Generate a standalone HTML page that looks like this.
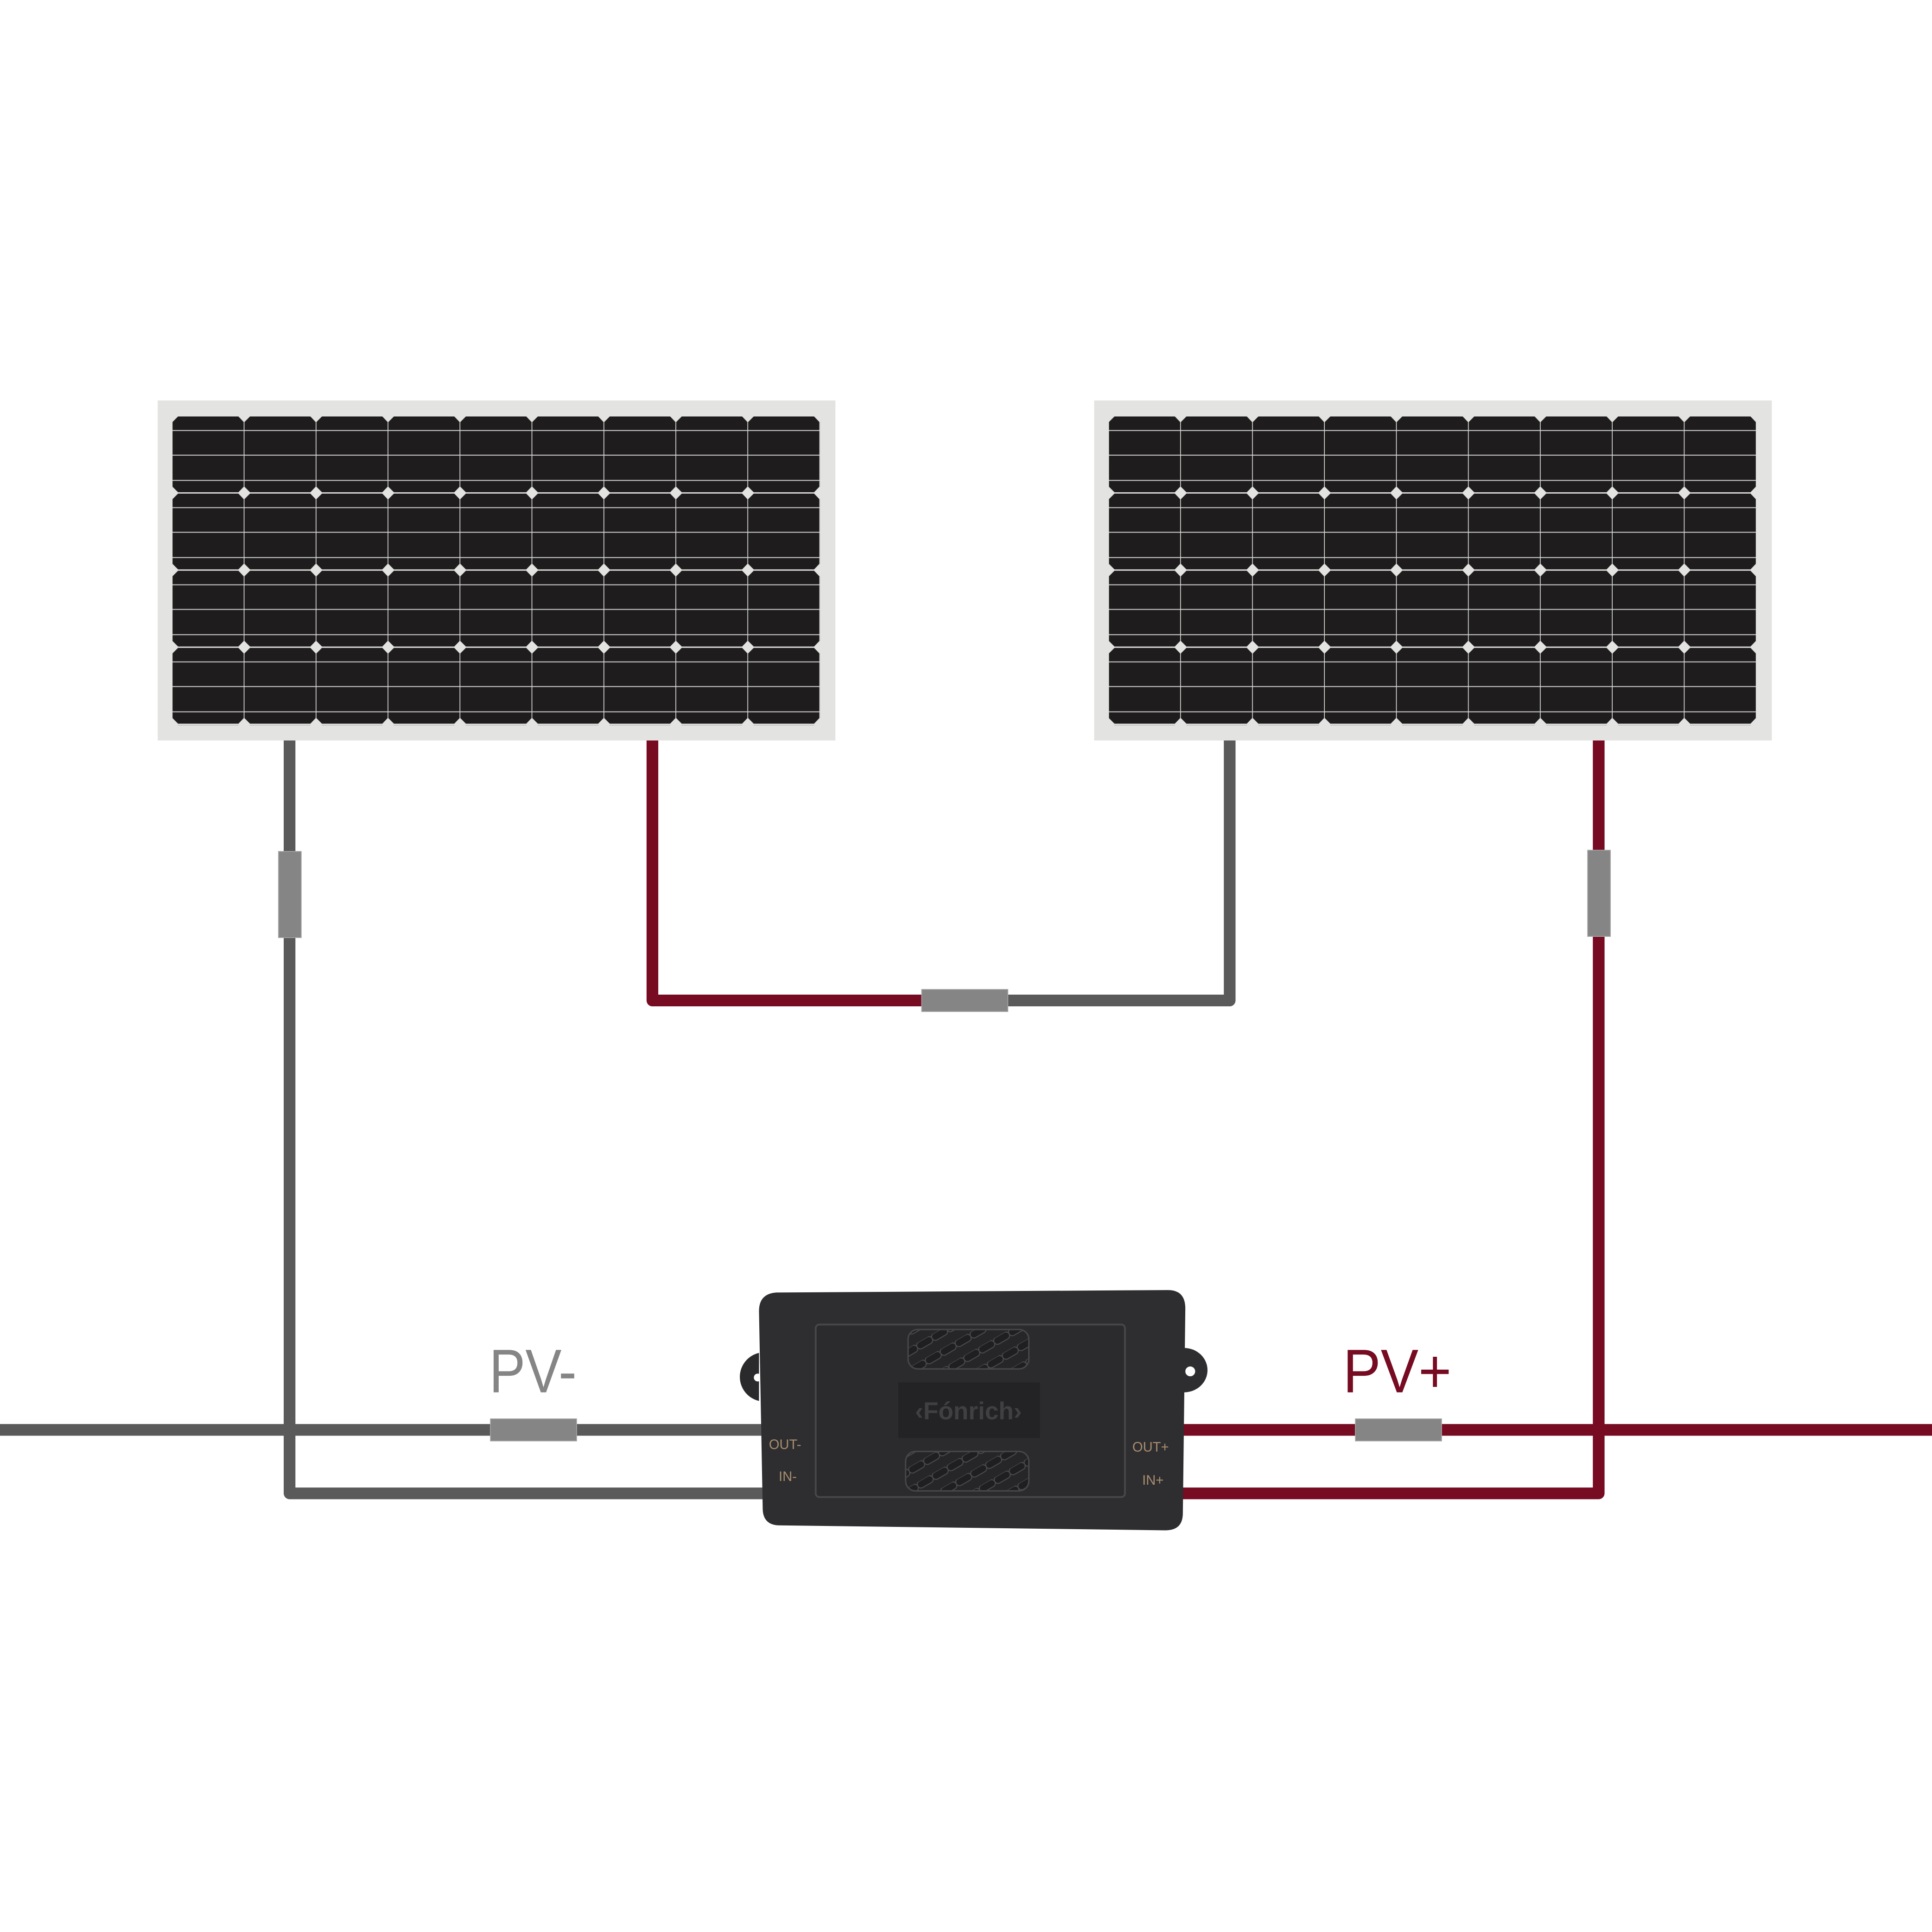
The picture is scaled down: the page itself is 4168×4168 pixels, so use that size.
<!DOCTYPE html>
<html><head><meta charset="utf-8"><style>html,body{margin:0;padding:0;background:#fff}svg{display:block}</style></head>
<body>
<svg width="4168" height="4168" viewBox="0 0 1568 1568" xmlns="http://www.w3.org/2000/svg">
<defs>
<g id="cell">
<polygon points="4.5,0 53.5,0 57.8,4.5 57.8,57 53.5,61.5 4.5,61.5 0,57 0,4.5" fill="#1e1c1d"/>
<rect x="0" y="11" width="57.8" height="0.8" fill="#c8c8c8"/>
<rect x="0" y="31" width="57.8" height="0.8" fill="#c8c8c8"/>
<rect x="0" y="51.5" width="57.8" height="0.8" fill="#c8c8c8"/>
</g>
<pattern id="p1" patternUnits="userSpaceOnUse" x="140" y="338" width="58.4" height="62.6"><use href="#cell"/></pattern>
<pattern id="p2" patternUnits="userSpaceOnUse" x="900" y="338" width="58.4" height="62.6"><use href="#cell"/></pattern>
<pattern id="hatch" patternUnits="userSpaceOnUse" width="14" height="14" patternTransform="rotate(-30)">
<rect width="14" height="14" fill="#262628"/><rect y="0" width="14" height="6" rx="3" fill="#1f1f21" stroke="#4a4a4c" stroke-width="0.8"/>
</pattern>
</defs>

<rect x="128" y="325" width="550" height="276" fill="#e3e3e1"/>
<rect x="140" y="338" width="525.6" height="250.5" fill="url(#p1)"/>
<rect x="888" y="325" width="550" height="276" fill="#e3e3e1"/>
<rect x="900" y="338" width="525.6" height="250.5" fill="url(#p2)"/>

<g fill="none" stroke-width="9.5" stroke-linejoin="round">
<polyline points="235,601 235,1212 620,1212" stroke="#5a5a5a"/>
<polyline points="0,1160.5 620,1160.5" stroke="#5a5a5a"/>
<polyline points="529.5,601 529.5,812 760,812" stroke="#760b22"/>
<polyline points="760,812 998,812 998,601" stroke="#5a5a5a"/>
<polyline points="1297.5,601 1297.5,1212 958,1212" stroke="#760b22"/>
<polyline points="958,1160.5 1568,1160.5" stroke="#760b22"/>
</g>
<g fill="#858585" stroke="#a8a8a8" stroke-width="0.6">
<rect x="226" y="691" width="18.5" height="70"/>
<rect x="1288.5" y="690" width="18.5" height="70"/>
<rect x="748" y="803" width="70" height="18"/>
<rect x="398" y="1151.5" width="70" height="18"/>
<rect x="1100" y="1151.5" width="70" height="18"/>
</g>

<text x="397" y="1130" font-family="Liberation Sans, sans-serif" font-size="50" fill="#858585" textLength="71" lengthAdjust="spacingAndGlyphs">PV-</text>
<text x="1090" y="1130" font-family="Liberation Sans, sans-serif" font-size="50" fill="#760b22" textLength="88" lengthAdjust="spacingAndGlyphs">PV+</text>

<path d="M616,1098 A20,20 0 0 0 616,1137 Z" fill="#2a2a2c"/>
<circle cx="615" cy="1118" r="3.2" fill="#fff"/>
<path d="M961,1094 A19,18 0 0 1 961,1130 Z" fill="#2e2e30"/>
<circle cx="966" cy="1113" r="4" fill="#fff"/>
<path d="M630,1049 L948,1047 Q962,1047 962,1062 L960,1228 Q960,1242 946,1242 L633,1238 Q619,1238 619,1224 L616,1064 Q616,1050 630,1049 Z" fill="#2e2e30"/>
<rect x="662" y="1075" width="251" height="140" rx="3" fill="#2b2b2d" stroke="#47474a" stroke-width="1.5"/>
<rect x="737" y="1079" width="98" height="32" rx="8" fill="url(#hatch)" stroke="#464648" stroke-width="1.2"/>
<rect x="735" y="1178" width="100" height="32" rx="8" fill="url(#hatch)" stroke="#464648" stroke-width="1.2"/>
<rect x="729" y="1122" width="115" height="45" fill="#232325"/>
<text x="786" y="1152" text-anchor="middle" font-family="Liberation Sans, sans-serif" font-weight="bold" font-size="20" fill="#404042">‹Fónrich›</text>
<g font-family="Liberation Sans, sans-serif" font-size="11" fill="#a88e70">
<text x="624" y="1176">OUT-</text>
<text x="632" y="1202">IN-</text>
<text x="919" y="1178">OUT+</text>
<text x="927" y="1205">IN+</text>
</g>
</svg>
</body></html>
